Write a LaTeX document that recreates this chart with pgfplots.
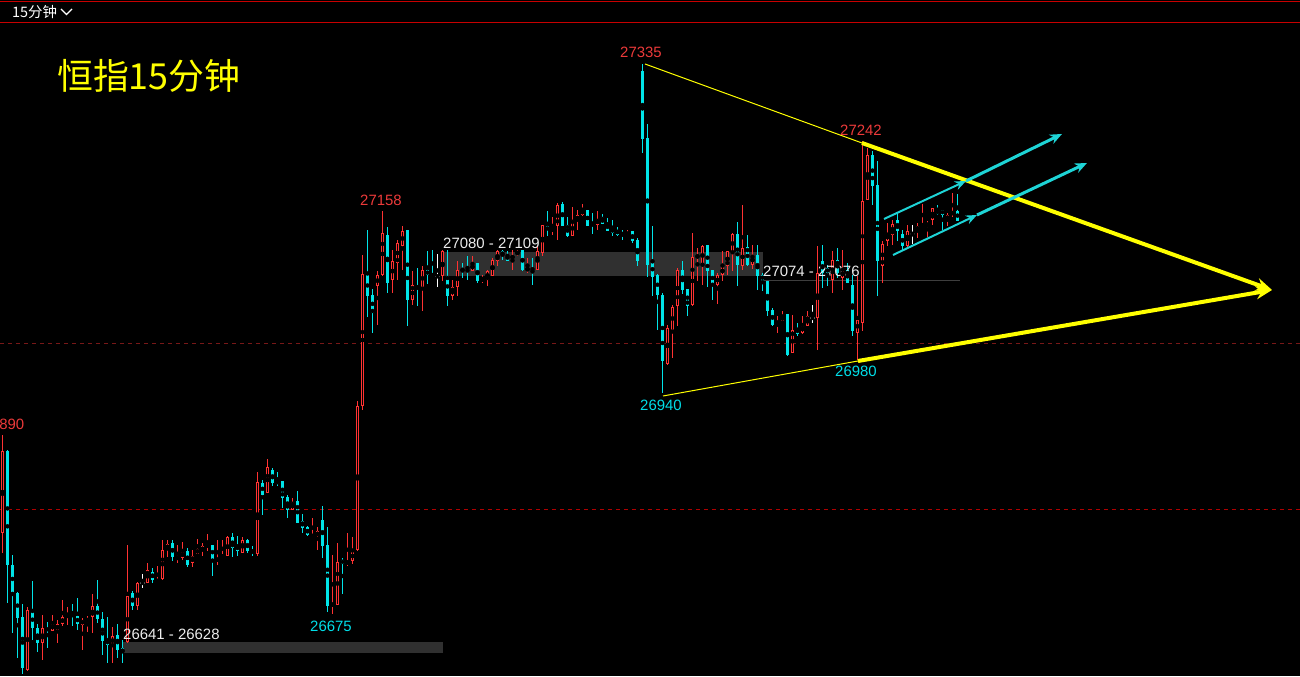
\documentclass[border=0pt]{standalone}
\usepackage{pgfplots}
\pgfplotsset{compat=1.18}
\usepackage{pgfplotstable}
\usetikzlibrary{arrows.meta}
\usepackage{fontspec}
\setmainfont{Liberation Sans}
\newfontfamily\cjk{Noto Sans CJK SC}

\definecolor{upred}{RGB}{255,50,50}
\definecolor{dncyan}{RGB}{0,228,232}
\definecolor{arrcyan}{RGB}{30,212,214}
\definecolor{hilab}{RGB}{236,58,58}
\definecolor{lolab}{RGB}{0,222,232}
\definecolor{gapgray}{RGB}{48,48,48}
\definecolor{linegray}{RGB}{62,62,62}
\definecolor{labwhite}{RGB}{236,236,236}
\definecolor{hdrred}{RGB}{200,0,0}
\definecolor{dashA}{RGB}{120,24,24}
\definecolor{dashB}{RGB}{175,0,0}
\definecolor{tyellow}{RGB}{255,255,0}

% HSI 15-minute bars: open high low close
\pgfplotstableread{
o h l c
26772 26890 26748 26870
26870 26872 26688 26733
26734 26746 26652 26700
26700 26701 26622 26670
26671 26687 26603 26610
26608 26683 26606 26680
26678 26714 26643 26658
26658 26663 26629 26640
26640 26674 26620 26658
26658 26665 26634 26655
26655 26674 26654 26664
26655 26668 26640 26663
26663 26692 26660 26671
26672 26683 26662 26676
26677 26687 26660 26675
26672 26694 26656 26663
26662 26670 26632 26668
26666 26672 26653 26669
26671 26699 26652 26684
26684 26716 26664 26669
26669 26677 26626 26643
26644 26671 26616 26638
26638 26659 26616 26648
26650 26663 26622 26632
26634 26644 26616 26628
26641 26758 26640 26696
26700 26702 26680 26684
26684 26713 26680 26712
26712 26723 26706 26712
26712 26736 26712 26728
26725 26730 26712 26716
26713 26732 26712 26716
26717 26764 26716 26752
26752 26764 26743 26759
26760 26764 26738 26743
26740 26758 26736 26744
26742 26761 26740 26750
26750 26754 26731 26734
26736 26752 26731 26744
26747 26765 26747 26753
26750 26760 26744 26756
26755 26771 26751 26759
26758 26758 26720 26740
26738 26764 26734 26742
26742 26764 26742 26746
26744 26768 26744 26767
26767 26772 26743 26754
26758 26768 26744 26750
26748 26767 26748 26764
26764 26765 26748 26751
26751 26756 26744 26749
26747 26845 26744 26833
26832 26836 26794 26818
26820 26861 26820 26851
26848 26850 26828 26832
26835 26845 26828 26831
26834 26835 26802 26814
26815 26818 26790 26800
26800 26814 26800 26809
26810 26822 26784 26784
26787 26795 26772 26778
26779 26780 26768 26770
26767 26790 26767 26770
26768 26779 26751 26774
26788 26804 26742 26756
26758 26779 26677 26684
26684 26746 26675 26688
26686 26760 26686 26737
26740 26742 26699 26735
26735 26772 26732 26738
26739 26767 26735 26750
26751 26930 26750 26924
26924 27106 26920 27083
27082 27136 27031 27056
27058 27065 27012 27036
27068 27086 27022 27082
27082 27158 27080 27132
27130 27139 27060 27072
27075 27112 27060 27098
27096 27124 27075 27120
27117 27140 27087 27134
27136 27136 27020 27052
27051 27086 27046 27069
27068 27090 27044 27065
27067 27092 27039 27088
27088 27110 27071 27081
27083 27112 27079 27080
27080 27107 27067 27080
27080 27112 27075 27110
27080 27112 27044 27056
27056 27076 27052 27067
27067 27098 27056 27088
27089 27096 27078 27087
27088 27104 27076 27086
27087 27104 27086 27096
27096 27096 27072 27074
27074 27082 27072 27078
27076 27088 27068 27086
27080 27102 27080 27100
27098 27112 27092 27110
27110 27112 27100 27105
27106 27110 27099 27099
27100 27111 27087 27106
27106 27112 27104 27110
27112 27112 27086 27087
27087 27102 27084 27090
27090 27102 27070 27087
27088 27116 27088 27110
27108 27142 27104 27142
27140 27158 27128 27135
27134 27151 27130 27138
27140 27168 27124 27166
27167 27169 27140 27140
27142 27151 27127 27128
27128 27163 27128 27147
27146 27160 27136 27154
27153 27167 27153 27161
27160 27160 27140 27140
27144 27156 27131 27140
27142 27158 27135 27149
27151 27155 27143 27143
27144 27150 27135 27135
27138 27148 27129 27132
27136 27139 27128 27130
27132 27136 27124 27130
27128 27136 27127 27132
27134 27135 27120 27122
27124 27126 27092 27099
27326 27335 27228 27245
27246 27263 27079 27094
27098 27140 27056 27079
27082 27083 27016 27058
27058 27060 26940 26978
26975 27022 26974 27018
27016 27046 26982 27043
27044 27090 27020 27088
27088 27098 27059 27063
27065 27065 27032 27044
27046 27132 27044 27103
27102 27114 27075 27106
27094 27118 27070 27116
27118 27118 27067 27087
27088 27088 27052 27068
27069 27084 27047 27082
27081 27111 27075 27092
27092 27110 27082 27110
27108 27132 27086 27131
27131 27145 27068 27093
27093 27166 27088 27114
27115 27130 27093 27094
27093 27118 27089 27106
27106 27118 27064 27081
27082 27084 27062 27075
27075 27075 27032 27038
27039 27042 27020 27022
27022 27032 27012 27027
27026 27038 27026 27033
27035 27035 26984 26986
26988 27034 26988 27016
27018 27024 27008 27011
27012 27032 27011 27022
27020 27039 27020 27032
27030 27046 27024 27030
27030 27116 26992 27084
27098 27118 27066 27084
27090 27094 27068 27084
27076 27110 27060 27100
27100 27114 27078 27084
27078 27112 27064 27088
27088 27096 27072 27072
27070 27082 27008 27015
27012 27080 26980 27028
27024 27242 27014 27170
27171 27234 27171 27226
27226 27230 27166 27188
27190 27218 27056 27098
27093 27122 27072 27119
27123 27144 27116 27132
27130 27148 27118 27143
27148 27156 27123 27135
27131 27135 27111 27116
27116 27142 27113 27134
27131 27142 27119 27131
27135 27144 27126 27140
27140 27167 27140 27143
27140 27146 27127 27144
27148 27162 27142 27162
27159 27166 27154 27155
27160 27160 27136 27154
27147 27156 27140 27154
27154 27180 27151 27158
27159 27179 27146 27147
}\hsi

% one candle layer: which bars (range of close-open), colour, stroke width
\pgfplotsset{
  candle/.style n args={3}{
    only marks, mark=none, forget plot,
    restrict expr to domain={\thisrow{c}-\thisrow{o}}{#1},
    error bars/.cd, y dir=both, y explicit, error mark=none,
    error bar style={draw=#2, line width=#3}},
  table/wick/.style={/pgfplots/table/x expr=\coordindex,
    /pgfplots/table/y expr={(\thisrow{h}+\thisrow{l})/2},
    /pgfplots/table/y error expr={(\thisrow{h}-\thisrow{l})/2}},
  table/body/.style={/pgfplots/table/x expr=\coordindex,
    /pgfplots/table/y expr={(\thisrow{o}+\thisrow{c})/2},
    /pgfplots/table/y error expr={abs(\thisrow{c}-\thisrow{o})/2}},
  table/hollow/.style={/pgfplots/table/x expr=\coordindex,
    /pgfplots/table/y expr={(\thisrow{o}+\thisrow{c})/2},
    /pgfplots/table/y error expr={max(abs(\thisrow{c}-\thisrow{o})/2-1.2,0)}},
}

\begin{document}
\begin{tikzpicture}[x=1bp,y=1bp]
\fill[black] (0,0) rectangle (1300,676);

\begin{axis}[at={(0,0)}, anchor=south west, scale only axis,
  width=1300bp, height=676bp,
  xmin=-0.5, xmax=259.5, ymin=26600.4, ymax=27411.6,
  hide axis]

% gap zones and reference levels
\fill[gapgray] (23.9,26628) rectangle (88.1,26641);
\fill[gapgray] (88.1,27080) rectangle (152.1,27109);
\fill[linegray] (152.1,27074.6) rectangle (191.5,27076);
\draw[dashA, line width=0.9bp, dash pattern=on 4bp off 4bp] (-0.5,27000) -- (259.5,27000);
\draw[dashB, line width=0.9bp, dash pattern=on 4bp off 4bp] (-0.5,26800) -- (259.5,26800);

% rising bars: hollow red
\addplot[candle={0.1:9999}{upred}{1.1bp}] table[wick] {\hsi};
\addplot[candle={0.1:9999}{upred}{3.6bp}] table[body] {\hsi};
\addplot[candle={0.1:9999}{black}{1.4bp}] table[hollow] {\hsi};
% falling bars: solid cyan
\addplot[candle={-9999:-0.1}{dncyan}{1.1bp}] table[wick] {\hsi};
\addplot[candle={-9999:-0.1}{dncyan}{3.6bp}] table[body] {\hsi};
% unchanged bars: white cross
\addplot[candle={-0.1:0.1}{white}{1.1bp}] table[wick] {\hsi};
\addplot[candle={-0.1:0.1}{white}{4.4bp}] table[x expr=\coordindex, y expr=\thisrow{c}, y error expr=0.6] {\hsi};

% triangle
\draw[tyellow, line width=1bp] (128.5,27334.8) -- (171.9,27240);
\draw[tyellow, line width=4bp, -{Stealth[length=16bp,width=13bp]}] (171.9,27240) -- (253.9,27063.6);
\draw[tyellow, line width=1bp] (132.1,26936.4) -- (171.1,26978.4);
\draw[tyellow, line width=4bp, -{Stealth[length=16bp,width=13bp]}] (171.1,26978.4) -- (253.9,27063.6);

% rising channel
\draw[arrcyan, line width=2bp, -{Stealth[length=11bp,width=9bp]}] (176.3,27148.8) -- (192.7,27194.4);
\draw[arrcyan, line width=3bp, -{Stealth[length=12bp,width=10bp]}] (192.7,27194.4) -- (211.9,27250.8);
\draw[arrcyan, line width=2bp, -{Stealth[length=11bp,width=9bp]}] (178.1,27105.6) -- (194.9,27153.6);
\draw[arrcyan, line width=3bp, -{Stealth[length=12bp,width=10bp]}] (194.9,27153.6) -- (216.9,27216);

% zone labels
\begin{scope}[every node/.style={inner sep=0pt, font=\fontsize{15}{15}\selectfont}]
\node[anchor=west, text=labwhite] at (24.1,26650.8) {26641 - 26628};
\node[anchor=west, text=labwhite] at (88.1,27120) {27080 - 27109};
\node[anchor=west, text=labwhite] at (152.1,27086.4) {27074 - 27076};
% swing highs and lows
\node[text=hilab] at (127.7,27349.2) {27335};
\node[text=hilab] at (171.7,27255.6) {27242};
\node[text=hilab] at (75.7,27171.6) {27158};
\node[text=hilab] at (0.2,26902.8) {26890};
\node[text=lolab] at (131.7,26925.6) {26940};
\node[text=lolab] at (170.7,26966.4) {26980};
\node[text=lolab] at (65.7,26660.4) {26675};
\end{scope}
\end{axis}

% header bar
\draw[hdrred, line width=1bp] (0,674) -- (1300,674);
\draw[hdrred, line width=1bp] (0,653) -- (1300,653);
\node[anchor=west, inner sep=0pt, text=white, font=\cjk\fontsize{14.5}{14.5}\selectfont] at (12,664) {15分钟};
\draw[white, line width=1.1bp] (61,667) -- (66.5,661.5) -- (72,667);
\node[anchor=west, inner sep=0pt, text=tyellow, font=\cjk\fontsize{36}{36}\selectfont] at (57,600) {恒指15分钟};

\pgfresetboundingbox
\path[use as bounding box] (0,0) rectangle (1300,676);
\end{tikzpicture}
\end{document}
